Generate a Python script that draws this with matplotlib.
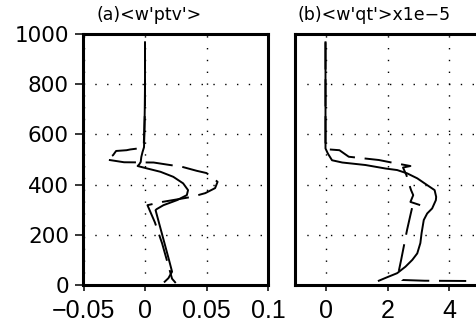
import matplotlib
matplotlib.use("Agg")
import matplotlib.pyplot as plt

# ---------------- data ----------------
# panel (a) <w'ptv'>
a_solid_z = [967, 800, 700, 600, 549, 530, 510, 490, 480, 474, 464, 451, 431, 405,
             378, 358, 338, 318, 302, 298, 200, 100, 53, 27, 13]
a_solid_x = [0.0, 0.0, -0.0002, -0.0005, -0.0008, -0.002, -0.003, -0.0035, -0.0048,
             -0.006, 0.002, 0.0126, 0.023, 0.031, 0.035, 0.034, 0.026, 0.015, 0.0094,
             0.0086, 0.014, 0.0195, 0.022, 0.019, 0.016]
a_dash_z = [967, 700, 560, 545, 540, 537, 534, 517, 500, 497, 489, 488, 480, 471,
            455, 446, 411, 386, 366, 351, 331, 318, 250, 166, 60, 25, 8]
a_dash_x = [0.0, 0.0, -0.001, -0.004, -0.012, -0.015, -0.0235, -0.026, -0.0316,
            -0.0275, -0.017, 0.007, 0.0176, 0.030, 0.042, 0.050, 0.059, 0.057, 0.049,
            0.038, 0.014, 0.002, 0.008, 0.0139, 0.020, 0.022, 0.025]

# panel (b) <w'qt'> x1e-5
b_solid_z = [967, 560, 544, 524, 497, 488, 478, 464, 458, 445, 425, 398, 378, 351,
             338, 305, 285, 259, 207, 167, 126, 100, 73, 47, 31, 17]
b_solid_x = [0.0, 0.0, 0.0, 0.075, 0.21, 0.54, 1.29, 1.94, 2.31, 2.63, 2.96, 3.28,
             3.52, 3.57, 3.56, 3.44, 3.28, 3.17, 3.1, 3.06, 2.96, 2.8, 2.58, 2.31,
             1.99, 1.72]
b_dash_z = [967, 545, 541, 537, 511, 498, 488, 474, 468, 438, 405, 378, 358, 331,
            318, 311, 279, 219, 100, 53, 20, 17, 16]
b_dash_x = [0.0, 0.0, 0.02, 0.45, 0.75, 1.72, 2.13, 2.74, 2.5, 2.61, 2.69, 2.76,
            2.83, 2.74, 3.06, 2.8, 2.74, 2.63, 2.44, 2.36, 2.47, 3.2, 4.62]

a_xticks = [-0.05, 0, 0.05, 0.1]
a_xlabels = ["\u22120.05", "0", "0.05", "0.1"]
b_xticks = [0, 2, 4]
b_xlabels = ["0", "2", "4"]
yticks = [0, 200, 400, 600, 800, 1000]
ylabels = ["0", "200", "400", "600", "800", "1000"]
titles = ["(a)<w'ptv'>", "(b)<w'qt'>x1e\u22125"]

W, H = 477, 322
fig = plt.figure(figsize=(W / 100, H / 100), dpi=100)


def fx(px):
    return px / W


def fy(py):
    return 1 - py / H


top, bot = 34, 285
axa = fig.add_axes([fx(83.5), fy(bot), fx(268) - fx(83.5), fy(top) - fy(bot)])
axb = fig.add_axes([fx(294.5), fy(bot), fx(480.5) - fx(294.5), fy(top) - fy(bot)])

lw = 1.4
dash = (0, (14, 5))
grid_kw = dict(color="black", linestyle=(0, (1, 7.5)), linewidth=1.0)
xfont, xsize = "Liberation Sans", 18

for ax in (axa, axb):
    for s in ax.spines.values():
        s.set_linewidth(2.2)
    ax.set_ylim(0, 1000)
    ax.set_yticks(yticks)
    ax.grid(True, **grid_kw)
    ax.set_axisbelow(True)

axa.plot(a_dash_x, a_dash_z, color="black", lw=lw, linestyle=dash)
axa.plot(a_solid_x, a_solid_z, color="black", lw=lw)
axa.set_xlim(-0.05, 0.1)
axa.set_xticks(a_xticks)
axa.set_xticklabels(a_xlabels, fontfamily=xfont, fontsize=xsize)
axa.set_yticklabels(ylabels, fontfamily="DejaVu Sans", fontsize=15.5)
axa.tick_params(axis="y", direction="out", length=5.5, width=1.1, pad=5.0)
axa.tick_params(axis="x", direction="out", length=4.3, width=1.1, pad=6.0)

axb.plot(b_dash_x, b_dash_z, color="black", lw=lw, linestyle=dash, clip_on=False)
axb.plot(b_solid_x, b_solid_z, color="black", lw=lw)
axb.set_xlim(-1, 5)
axb.set_xticks(b_xticks)
axb.set_xticklabels(b_xlabels, fontfamily=xfont, fontsize=xsize)
axb.tick_params(axis="y", length=0, labelleft=False)
axb.tick_params(axis="x", direction="out", length=4.3, width=1.1, pad=6.0)

fig.text(fx(97), fy(15.5), titles[0], fontfamily="DejaVu Sans", fontsize=12.5,
         ha="left", va="center")
fig.text(fx(298), fy(15.5), titles[1], fontfamily="DejaVu Sans", fontsize=12.5,
         ha="left", va="center")

fig.savefig("out.png", dpi=100)
